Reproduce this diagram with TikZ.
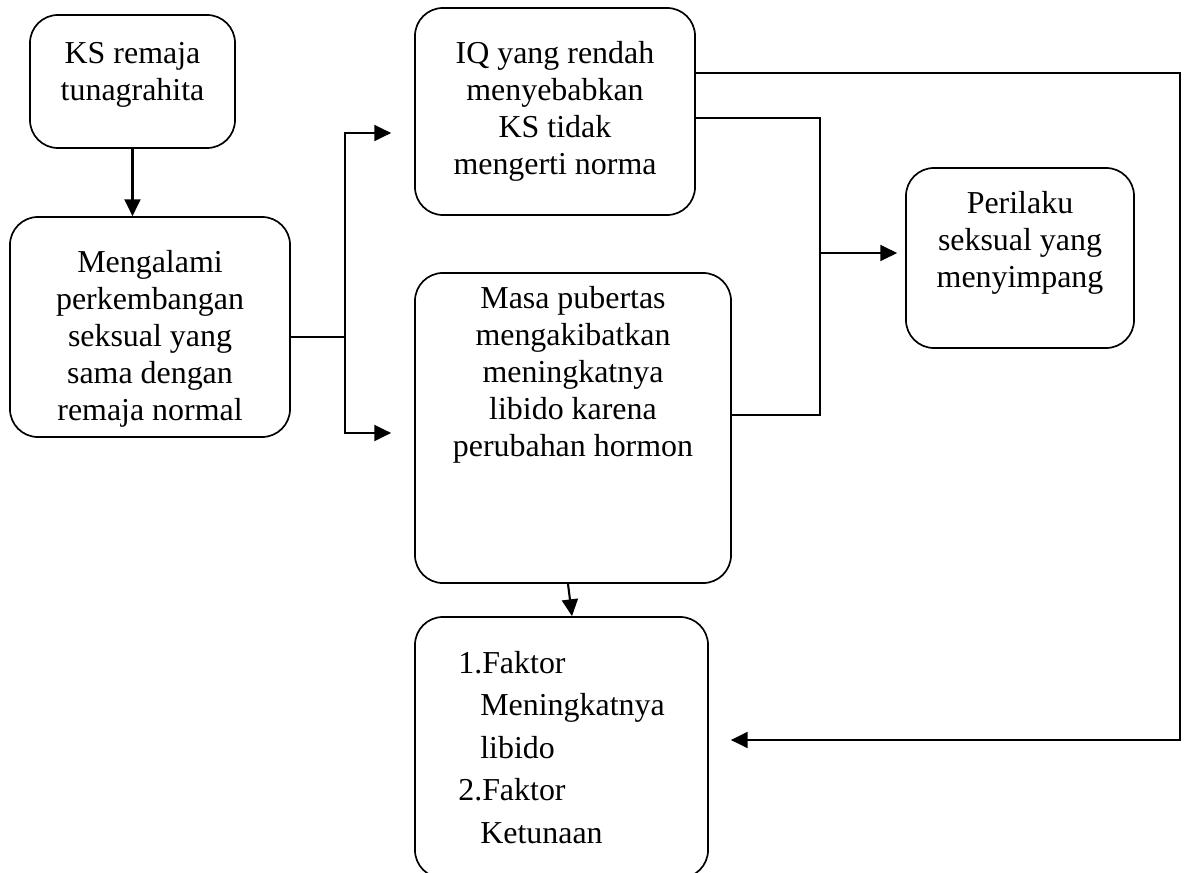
\documentclass[tikz,border=0pt]{standalone}
\usepackage{fontspec}
\setmainfont{Liberation Serif}
\usetikzlibrary{arrows.meta}
\newcommand{\lift}[1]{\rule[-#1]{0pt}{#1}}
\tikzset{
  box/.style={draw, line width=1.2pt, rounded corners=0.7cm, align=center,
    font=\fontsize{22.7}{26.3}\selectfont, inner sep=0pt},
  link/.style={line width=1.5pt},
  arrowlink/.style={line width=1.5pt, -{Triangle[length=0.42cm,width=0.4cm]}},
}
\begin{document}
\begin{tikzpicture}[x=0.025cm, y=-0.025cm]
    \useasboundingbox (0,0) rectangle (1184,873);
    % Kotak
    \node[box, minimum width=5.125cm, minimum height=3.325cm] (ks) at (132.5,81.5)
      {KS remaja\\tunagrahita\lift{0.5cm}};
    \node[box, minimum width=7cm, minimum height=5.5cm] (alami) at (150,327)
      {\rule{0pt}{33pt}Mengalami\\perkembangan\\seksual yang\\sama dengan\\remaja normal};
    \node[box, minimum width=7cm, minimum height=5.175cm] (iq) at (555,111.5)
      {IQ yang rendah\\menyebabkan\\KS tidak\\mengerti norma};
    \node[box, minimum width=7.9cm, minimum height=7.75cm] (puber) at (573,428)
      {Masa pubertas\\mengakibatkan\\meningkatnya\\libido karena\\perubahan hormon\lift{2.85cm}};
    \node[box, minimum width=5.7cm, minimum height=4.5cm] (perilaku) at (1020,258)
      {Perilaku\\seksual yang\\menyimpang\lift{0.95cm}};
    \node[box, align=left, font=\fontsize{22.7}{30.2}\selectfont,
      minimum width=7.325cm, minimum height=6.525cm] (faktor) at (561.5,747.5)
      {1.Faktor\\\hspace*{0.55cm}Meningkatnya\\\hspace*{0.55cm}libido\\2.Faktor\\\hspace*{0.55cm}Ketunaan};
    % Titik cabang
    \coordinate (split) at (345,337);
    \coordinate (join) at (820,253);
    \coordinate (loop) at (1180,740);
    % Panah
    \draw[arrowlink] (ks.south) -- (ks.south |- alami.north);
    \draw[link] (alami.east |- split) -- (split);
    \draw[arrowlink, shorten >=0.575cm] (split) |- (iq.west |- 0,133);
    \draw[arrowlink, shorten >=0.575cm] (split) |- (puber.west |- 0,433);
    \draw[link] (iq.east |- 0,118) -| (join) |- (puber.east |- 0,415);
    \draw[arrowlink, shorten >=0.2cm] (join) -- (perilaku.west |- join);
    \draw[arrowlink, shorten >=0.55cm] (iq.east |- 0,73) -| (loop) -- (faktor.east |- loop);
    \draw[arrowlink] (puber.south -| 568,0) -- (faktor.north -| 572,0);
\end{tikzpicture}
\end{document}
